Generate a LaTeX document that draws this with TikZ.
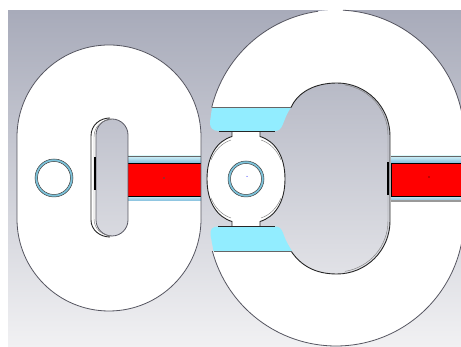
\documentclass[tikz,border=0pt]{standalone}
\definecolor{bgtop}{HTML}{A8ABBA}
\definecolor{bgbot}{HTML}{F1F1F3}
\definecolor{edgegrey}{HTML}{555560}
\definecolor{iceblue}{HTML}{92EDFF}
\definecolor{bandlight}{HTML}{D2F2F8}
\definecolor{banddark}{HTML}{82BCDC}
\definecolor{ringblue}{HTML}{7CC4DC}
\tikzset{
  outer/.style={draw=edgegrey,line width=0.8pt},
  inner/.style={draw=black!85,line width=0.9pt},
  faint/.style={draw=black!50,line width=0.45pt},
  heavy/.style={draw=black,line width=2pt},
  redbar/.style={fill=red,draw=black,line width=0.5pt},
  icepiece/.style={fill=iceblue},
  bandtop/.style={top color=bandlight,bottom color=banddark},
  bandbot/.style={top color=bandlight,bottom color=banddark}
}
\begin{document}
\begin{tikzpicture}[x=1pt,y=1pt]
\useasboundingbox (0,0) rectangle (461,347);
\clip (0,0) rectangle (461,347);
\shade[top color=bgtop,bottom color=bgbot] (8,0) rectangle (461,336);
\begin{scope}
\clip (8,0) rectangle (461,347);
\begin{scope}[yshift=347pt,yscale=-1]
% left body with slot
\fill[white,even odd rule]
  (17,137) arc[start angle=180,end angle=360,radius=92] -- (201,219)
  arc[start angle=0,end angle=180,radius=92] -- cycle
  (96,135) arc[start angle=180,end angle=360,radius=16] -- (128,220)
  arc[start angle=0,end angle=180,radius=16] -- cycle;
% right body
\fill[white]
  (211.7,107.5) arc[start angle=193.8,end angle=360,radius=128] -- (464,218)
  arc[start angle=0,end angle=165,radius=128] -- (291,251)
  .. controls (303,269) and (320,274) .. (337,274)
  arc[start angle=90,end angle=0,radius=53] -- (390,136)
  arc[start angle=0,end angle=-90,radius=53]
  .. controls (315,83) and (298,92) .. (291,107.5) -- cycle;
\end{scope}
\end{scope}
% metal bands, in upward coordinates so their shading keeps its direction
\shade[bandtop] (128,184) rectangle (201,191);
\shade[bandbot] (128,146) rectangle (201,151.5);
\shade[bandtop] (391,184) rectangle (461,191);
\shade[bandbot] (391,146) rectangle (461,151.5);
\fill[black!40] (391,144.5) rectangle (461,146.5);
\begin{scope}[yshift=347pt,yscale=-1]
\fill[red] (128,163) rectangle (201,196);
\draw[black,line width=0.5pt] (128,163) -- (201,163) (128,196) -- (201,196);
\draw[redbar] (391,163) rectangle (462,196);
\draw[black!60,line width=0.4pt] (128,156.3) -- (201,156.3) (391,156.3) -- (461,156.3);
% outer outlines
\draw[outer] (17,219) -- (17,137) arc[start angle=180,end angle=360,radius=92] -- (201,219)
  arc[start angle=0,end angle=180,radius=92];
\draw[outer] (211.7,107.5) arc[start angle=193.8,end angle=262,radius=128];
\draw[outer] (343,10.2) arc[start angle=273,end angle=360,radius=128] -- (464,218)
  arc[start angle=0,end angle=165,radius=128];
% left slot
\draw[outer] (96,135) arc[start angle=180,end angle=360,radius=16] -- (128,220)
  arc[start angle=0,end angle=180,radius=16] -- cycle;
\draw[inner] (110,118) .. controls (100,118) and (91,125) .. (91,136) -- (91,220)
  .. controls (91,230) and (100,237) .. (110,237);
\draw[faint] (112,119.5) .. controls (102,120) and (94,126) .. (94,137) -- (94,219)
  .. controls (94,229) and (102,235.5) .. (112,236);
\draw[heavy] (95,157) -- (95,190);
% right hole edge
\draw[inner] (291,107.5) .. controls (298,92) and (315,83) .. (337,83)
  arc[start angle=-90,end angle=0,radius=53] -- (390,221)
  arc[start angle=0,end angle=90,radius=53]
  .. controls (320,274) and (303,269) .. (291,251);
\draw[faint] (345,85) arc[start angle=-81,end angle=0,radius=51] -- (388,221)
  arc[start angle=0,end angle=81,radius=51];
\draw[heavy] (388,162) -- (388,195);
% iris
\fill[white] (232,131) -- (260,131) -- (260,136.5)
  .. controls (275,141) and (285,156) .. (285,179)
  .. controls (285,202) and (275,217) .. (260,221.5) -- (260,227) -- (232,227) -- (232,221.5)
  .. controls (217,217) and (207,202) .. (207,179)
  .. controls (207,156) and (217,141) .. (232,136.5) -- cycle;
\draw[inner] (232,131) -- (232,136.5) .. controls (217,141) and (207,156) .. (207,179)
  .. controls (207,202) and (217,217) .. (232,221.5) -- (232,227);
\draw[inner] (260,131) -- (260,136.5) .. controls (275,141) and (285,156) .. (285,179)
  .. controls (285,202) and (275,217) .. (260,221.5) -- (260,227);
\draw[faint] (231,140) .. controls (222,143) and (215,150) .. (211,160);
\draw[faint] (261,140) .. controls (270,143) and (277,150) .. (281,160);
\draw[faint] (231,218) .. controls (222,215) and (215,208) .. (211,198);
\draw[faint] (261,218) .. controls (270,215) and (277,208) .. (281,198);
% ice pieces
\path[icepiece] (212,107.5) -- (291,107.5) .. controls (287,113) and (285,119) .. (283,124)
  .. controls (281,129) and (279,131) .. (275,131) -- (219,131)
  .. controls (213,131) and (209.5,128) .. (210,122) -- cycle;
\draw[black!60,line width=0.7pt] (212,107.5) -- (291,107.5);
\draw[inner] (219,131) -- (275,131);
\path[icepiece] (213.5,251) -- (292,251) .. controls (288,245) and (285,239) .. (283,233)
  .. controls (281,228) and (279,226.5) .. (275,226.5) -- (218,226.5)
  .. controls (213,226.5) and (209.5,229) .. (210.5,235) -- cycle;
\draw[black!60,line width=0.7pt] (213.5,251) -- (292,251);
\draw[inner] (218,226.5) -- (275,226.5);
% coax rings
\draw[fill=ringblue,draw=black!75,line width=0.5pt] (54,178) circle[radius=19];
\draw[fill=white,draw=black!75,line width=0.5pt] (54,178) circle[radius=16.5];
\draw[fill=ringblue,draw=black!75,line width=0.5pt] (246,179) circle[radius=18];
\draw[fill=white,draw=black!75,line width=0.5pt] (246,179) circle[radius=15.5];
% small marks
\fill[black!70] (164,178) circle[radius=0.8];
\fill[black] (429,177) circle[radius=0.7];
\fill[blue] (247,176.5) circle[radius=0.5];
\end{scope}
\end{tikzpicture}
\end{document}
